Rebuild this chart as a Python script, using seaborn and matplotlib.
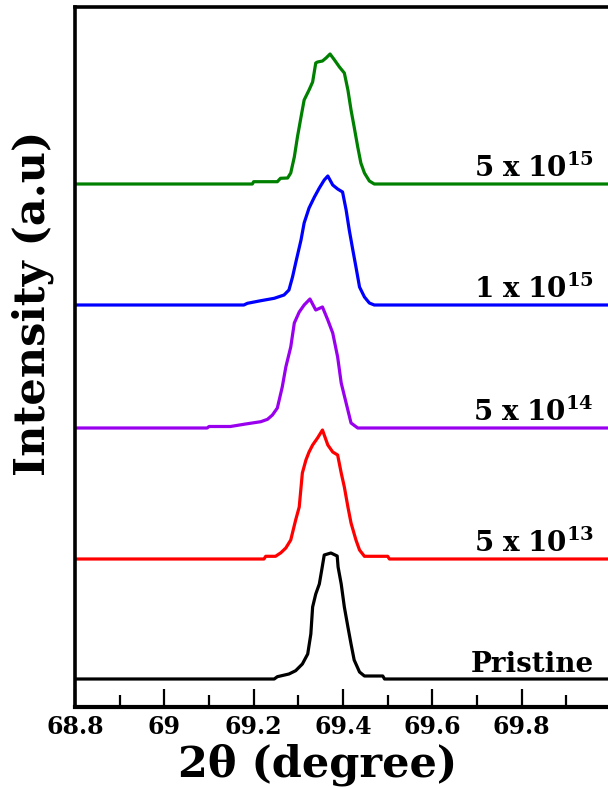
import numpy as np
import matplotlib
matplotlib.use("Agg")
import matplotlib.pyplot as plt
import seaborn as sns
from matplotlib.ticker import FixedLocator

# XRD peak profiles (2-theta in degree, intensity in a.u. above each baseline)
tt_pristine = [68.80, 69.246, 69.253, 69.279, 69.294, 69.309, 69.321, 69.328, 69.332, 69.339,
               69.347, 69.352, 69.358, 69.373, 69.387, 69.389, 69.396, 69.403, 69.411, 69.418,
               69.425, 69.437, 69.448, 69.489, 69.493, 70.00]
int_pristine = [0, 0, 2.3, 5, 8.3, 15, 25, 45, 72, 85,
                95, 108, 124, 126, 123, 112, 95, 72, 52, 35,
                19, 7, 3, 3, 0, 0]

tt_5e13 = [68.80, 69.223, 69.227, 69.249, 69.261, 69.272, 69.283, 69.294, 69.302, 69.309,
           69.317, 69.324, 69.332, 69.343, 69.354, 69.366, 69.377, 69.388, 69.396, 69.403,
           69.411, 69.418, 69.429, 69.437, 69.448, 69.500, 69.504, 70.00]
int_5e13 = [0, 0, 2.7, 2.7, 6.3, 11, 19, 39, 52, 86,
            99, 107, 114, 121, 129, 114, 107, 104, 86, 72,
            52, 36, 19, 9, 2.7, 2.7, 0, 0]

tt_5e14 = [68.80, 69.096, 69.100, 69.148, 69.182, 69.216, 69.231, 69.242, 69.253, 69.264,
           69.272, 69.283, 69.291, 69.302, 69.313, 69.326, 69.339, 69.354, 69.366, 69.377,
           69.388, 69.396, 69.407, 69.418, 69.433, 70.00]
int_5e14 = [0, 0, 1.5, 1.5, 4, 6.3, 8.7, 13, 20, 41,
            61, 81, 105, 116, 123, 129, 118, 121, 108, 95,
            71, 45, 25, 5, 0, 0]

tt_1e15 = [68.80, 69.178, 69.186, 69.216, 69.246, 69.268, 69.279, 69.287, 69.294, 69.306,
           69.313, 69.324, 69.336, 69.347, 69.358, 69.366, 69.377, 69.388, 69.399, 69.407,
           69.414, 69.422, 69.429, 69.437, 69.448, 69.459, 69.470, 70.00]
int_1e15 = [0, 0, 1.7, 4.3, 6.7, 10, 15, 28, 42, 65,
            82, 97, 108, 117, 125, 129, 120, 116, 113, 95,
            75, 55, 38, 18, 8, 2, 0, 0]

tt_5e15 = [68.80, 69.197, 69.200, 69.253, 69.260, 69.276, 69.283, 69.291, 69.298, 69.306,
           69.313, 69.324, 69.332, 69.339, 69.343, 69.354, 69.362, 69.371, 69.381, 69.392,
           69.403, 69.411, 69.418, 69.425, 69.433, 69.440, 69.448, 69.459, 69.470, 70.00]
int_5e15 = [0, 0, 2.3, 2.3, 5.7, 6, 11, 27, 47, 67,
            84, 94, 102, 121, 122, 123, 126, 130, 124, 117,
            111, 94, 74, 57, 37, 21, 11, 3, 0, 0]

labels = ["Pristine", r"$\mathbf{5\ x\ 10^{13}}$", r"$\mathbf{5\ x\ 10^{14}}$",
          r"$\mathbf{1\ x\ 10^{15}}$", r"$\mathbf{5\ x\ 10^{15}}$"]
offsets = [28, 148, 279, 402, 523]
colors = ["black", "#ff0000", "#9900ee", "#0000ff", "#008000"]

major_ticks = [68.8, 69.0, 69.2, 69.4, 69.6, 69.8]
tick_labels = ["68.8", "69", "69.2", "69.4", "69.6", "69.8"]
minor_ticks = [68.9, 69.1, 69.3, 69.5, 69.7, 69.9]

curves = [(tt_pristine, int_pristine), (tt_5e13, int_5e13), (tt_5e14, int_5e14),
          (tt_1e15, int_1e15), (tt_5e15, int_5e15)]

sns.set_theme(style="white")
plt.rcParams["font.family"] = ["DejaVu Serif"]
plt.rcParams["mathtext.fontset"] = "dejavuserif"
plt.rcParams["text.color"] = "black"
plt.rcParams["axes.labelcolor"] = "black"

fig = plt.figure(figsize=(6.08, 7.88), dpi=100)
ax = fig.add_axes([75 / 608, 81 / 788, 536 / 608, 700 / 788])

for (tt, inten), off, col, lab in zip(curves, offsets, colors, labels):
    y = np.array(inten) + off
    sns.lineplot(x=tt, y=y, ax=ax, color=col, lw=2.3, sort=False, estimator=None)
    ax.text(69.962, off + 7, lab, ha="right", va="baseline",
            fontsize=20, fontweight="bold", color="black")

ax.set_xlim(68.8, 70.0)
ax.set_ylim(0, 700)

ax.xaxis.set_major_locator(FixedLocator(major_ticks))
ax.set_xticklabels(tick_labels, fontsize=17, fontweight="bold", color="black")
ax.xaxis.set_minor_locator(FixedLocator(minor_ticks))
ax.tick_params(axis="x", which="major", direction="in", length=13, width=1.6,
               bottom=True, top=False, pad=6, colors="black")
ax.tick_params(axis="x", which="minor", direction="in", length=8.5, width=1.6,
               bottom=True, top=False, colors="black")
ax.set_yticks([])

for side in ["left", "top", "right", "bottom"]:
    ax.spines[side].set_color("black")
    ax.spines[side].set_linewidth(2.6)
ax.spines["bottom"].set_linewidth(3.0)

ax.set_xlabel("2θ (degree)", fontsize=31, fontweight="bold", va="center", color="black")
ax.xaxis.set_label_coords(0.453, -0.083)
ax.set_ylabel("Intensity (a.u)", fontsize=31, fontweight="bold", va="center", color="black")
ax.yaxis.set_label_coords(-0.078, 0.576)

fig.savefig("out.png", dpi=100)
